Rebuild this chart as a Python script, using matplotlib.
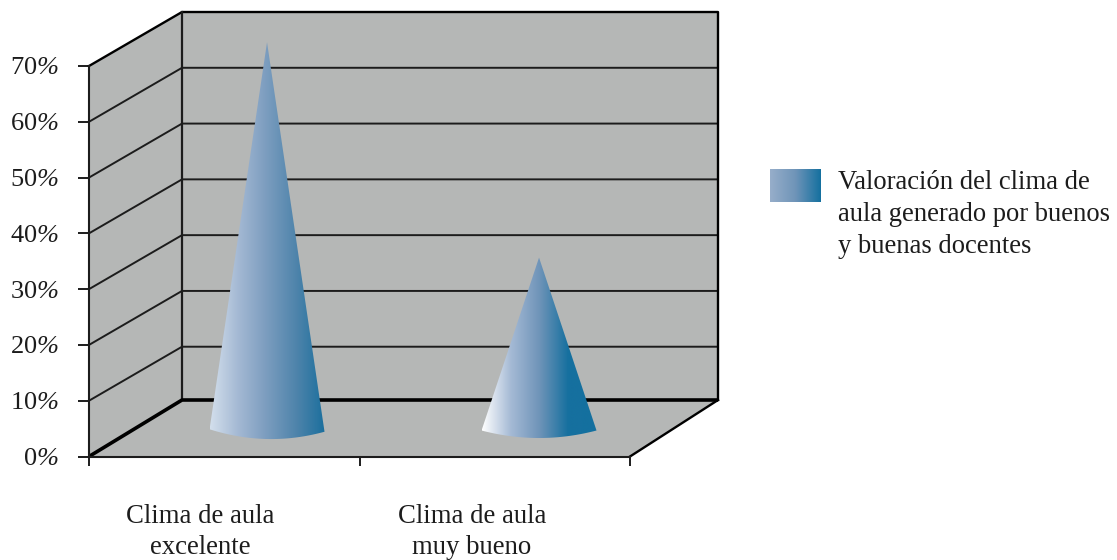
import numpy as np
import matplotlib
matplotlib.use('Agg')
import matplotlib.pyplot as plt
from matplotlib.colors import LinearSegmentedColormap
from matplotlib.patches import Polygon

categories = ["Clima de aula\nexcelente", "Clima de aula\nmuy bueno"]
values = [69.6, 31]
value_ticks = [0, 10, 20, 30, 40, 50, 60, 70]
legend_label = "Valoración del clima de\naula generado por buenos\ny buenas docentes"

W, H = 1117, 560
wall = "#b5b7b6"
ink = "#1c1c1c"

plt.rcParams['font.family'] = ['Liberation Serif', 'DejaVu Serif']
# % sign in the tick labels is italic, digits are not
plt.rcParams['mathtext.fontset'] = 'custom'
plt.rcParams['mathtext.it'] = 'Liberation Serif:italic'
plt.rcParams['mathtext.rm'] = 'Liberation Serif:italic'

fig = plt.figure(figsize=(W / 100, H / 100), dpi=100)
ax = fig.add_axes([89 / W, (H - 456.5) / H, 541 / W, 390.5 / H])
ax.set_xlim(0, len(categories))
ax.set_ylim(0, 70)
ax.patch.set_visible(False)
for s in ['top', 'right']:
    ax.spines[s].set_visible(False)
for s in ['left', 'bottom']:
    ax.spines[s].set_linewidth(1.5)
    ax.spines[s].set_color(ink)

n = len(categories)
top = value_ticks[-1]

# depth of the box, in data units. back wall is a bit narrower than the front,
# floor goes a little deeper than the gridlines
dx_left = 93 / 270.5
dx_right = 88 / 270.5
dy_wall = 54 / 5.579
dy_floor = 56.5 / 5.579


def deep(x, y, d=1.0):
    ddx = dx_left + (dx_right - dx_left) * x / n
    ddy = dy_floor if y == 0 else dy_wall
    return x + d * ddx, y + d * ddy


# walls and floor
ax.add_patch(Polygon([deep(0, 0, 0), deep(0, top, 0), deep(0, top), deep(0, 0)],
                     fc=wall, ec='none', clip_on=False, zorder=1))
ax.add_patch(Polygon([deep(0, 0), deep(0, top), deep(n, top), deep(n, 0)],
                     fc=wall, ec='none', clip_on=False, zorder=1))
ax.add_patch(Polygon([deep(0, 0, 0), deep(n, 0, 0), deep(n, 0), deep(0, 0)],
                     fc=wall, ec='none', clip_on=False, zorder=1))

for v in value_ticks[1:-1]:
    xs, ys = zip(deep(0, v, 0), deep(0, v), deep(n, v))
    ax.plot(xs, ys, color=ink, lw=1.4, clip_on=False, zorder=2)

# box outline
xs, ys = zip(deep(0, top, 0), deep(0, top), deep(n, top), deep(n, 0))
ax.plot(xs, ys, color='black', lw=1.7, clip_on=False, zorder=2)
xs, ys = zip(deep(0, 0), deep(0, top))
ax.plot(xs, ys, color=ink, lw=1.6, clip_on=False, zorder=2)
xs, ys = zip(deep(0, 0, 0), deep(0, 0), deep(n, 0))
ax.plot(xs, ys, color='black', lw=2.6, clip_on=False, zorder=2, solid_capstyle='butt')
xs, ys = zip(deep(n, 0), deep(n, 0, 0))
ax.plot(xs, ys, color='black', lw=1.7, clip_on=False, zorder=2)

# cones
cone_stops = [
    ["#d3dfec", "#a3b8d3", "#7a9cbe", "#4f84ab", "#1b6f9d"],
    ["#ffffff", "#a5bad5", "#6f94b8", "#16709f", "#14709f"],
]
radius = 0.2125
drop = [8.5 / 5.579, 7.5 / 5.579]
tilt = [0.22, 0.0]  # left edge of the first base sits a bit lower
depth = 0.46
spacing = 272 / 270.5  # cones and labels sit slightly wider than the ticks

for i, v in enumerate(values):
    cx = (i * spacing + 0.5) + depth * dx_left
    cy = deep(0, 0, depth)[1]
    t = np.linspace(-1, 1, 40)
    bx = cx + radius * t
    by = cy - drop[i] * (1 - t ** 2) - tilt[i] * t
    pts = [(cx, cy + v)] + list(zip(bx, by))
    poly = Polygon(pts, closed=True, transform=ax.transData, fc='none', ec='none')
    ax.add_patch(poly)
    cmap = LinearSegmentedColormap.from_list(f"cone{i}", cone_stops[i])
    im = ax.imshow(np.linspace(0, 1, 256)[None, :], cmap=cmap, aspect='auto',
                   extent=[cx - radius, cx + radius, cy - drop[i] - 1, cy + v + 1], zorder=3)
    im.set_clip_path(poly)
    im.set_clip_box(fig.bbox)

ax.set_xlim(0, n)
ax.set_ylim(0, top)

# axes ticks
ax.set_xticks(range(n + 1))
ax.set_xticklabels([])
ax.set_yticks(value_ticks)
ax.set_yticklabels([f"{v}$\\%$" for v in value_ticks], fontsize=19, color=ink)
ax.tick_params(axis='y', length=8, width=1.4, color=ink, pad=14)
ax.tick_params(axis='x', length=6.5, width=1.4, color=ink)

for i, c in enumerate(categories):
    ax.text(i * spacing + 0.41, -8.6, c, ha='center', va='top', fontsize=19.3, color=ink,
            linespacing=1.28, clip_on=False)

# legend
lax = fig.add_axes([770 / W, (H - 202) / H, 51 / W, 33 / H])
lax.imshow(np.linspace(0, 1, 256)[None, :], aspect='auto',
           cmap=LinearSegmentedColormap.from_list("leg", ["#97aeca", "#6f94b8", "#14709f"]))
lax.axis('off')
fig.text(838 / W, (H - 170) / H, legend_label, ha='left', va='top', fontsize=19.2,
         color=ink, linespacing=1.37)

fig.savefig("out.png", dpi=100)
